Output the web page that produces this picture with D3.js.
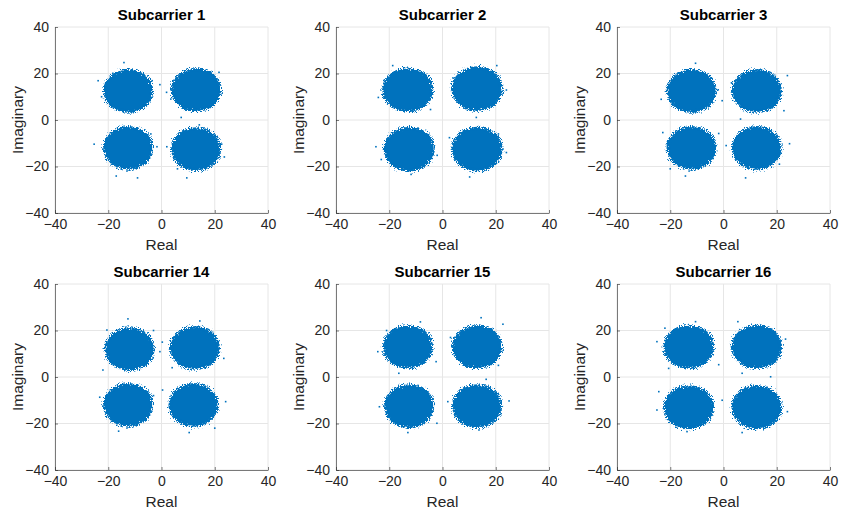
<!DOCTYPE html>
<html>
<head>
<meta charset="utf-8">
<script src="https://cdn.jsdelivr.net/npm/d3@7"></script>
<style>
  body { margin: 0; background: #fff; }
  svg { display: block; font-family: "Liberation Sans", Arial, sans-serif; }
</style>
</head>
<body>
<div class="viz"></div>
<script>
// subplot titles, in reading order
const titles = ['Subcarrier 1', 'Subcarrier 2', 'Subcarrier 3', 'Subcarrier 14', 'Subcarrier 15', 'Subcarrier 16'];
const ticks = [-40, -20, 0, 20, 40];

// centre of each of the four symbol clouds [real, imag], per subcarrier
const centers1 = [[-12.5, 12.5], [13, 13], [-12.5, -12], [13, -12.5]];
const centers2 = [[-13, 13], [13, 13.5], [-12.5, -12.5], [13, -12.5]];
const centers3 = [[-12, 12.5], [12.5, 12.5], [-12, -12], [12.5, -12]];
const centers14 = [[-12, 12], [12.5, 12.5], [-12.5, -12], [12, -12]];
const centers15 = [[-13, 13], [13, 13], [-12.5, -12.5], [13, -12.5]];
const centers16 = [[-13, 13], [12.5, 13], [-13, -13], [12.5, -13]];

// radius of the dense part of each cloud
const coreRadius = [9.4, 9.6, 9.4, 9.4, 9.4, 9.5];

// stray samples outside the dense cores
const strays1 = [[-14.1, 24.7], [-23.8, 16.9], [-0.6, 15.2], [-3.5, 16.9], [-9.0, -24.9], [-25.3, -10.4], [-1.7, -11.5], [2.0, -11.5], [9.5, -24.9], [23.6, -15.9], [22.6, -10.4], [14.2, -2.1], [21.6, 20.5], [7.4, 1.1], [1.9, 11.9], [-17, -24.1], [-22.5, 10], [3.5, 9], [-4, -6], [6, -21]];
const strays2 = [[-18.7, 23.4], [-24.1, 9.7], [-2, -15.2], [-11.8, -23.4], [-25, -11.5], [2.6, -7.6], [24, -14], [10.2, -24.5], [12.7, 1.1], [24, 12.9], [20.4, 23.4], [-4.5, 4.5], [-22, 17], [4, 18], [-23, -17], [21, -6]];
const strays3 = [[-10.5, 24.4], [-23.4, 8.9], [-0.5, 8.3], [6.4, 0.4], [24, 19.1], [22.7, 4], [-1.8, -5.8], [-14.3, -24.1], [8.3, -24.9], [24.8, -10.2], [-22.8, -5.4], [3, 16], [-2, 13], [1, -11], [-20, -21], [21, -19]];
const strays14 = [[-12.6, 25], [-23.2, -8.7], [-0.6, 10.9], [0.4, -5.6], [-16.1, -23.3], [10.4, -23.9], [23.4, 8], [14.4, 24.1], [24.1, -10.6], [-20.5, 20.2], [0.3, 15], [-3, 20], [4, 4], [-3, -8], [20, -22], [-22, 3]];
const strays15 = [[-8.3, 23.7], [-24.3, 10.9], [-2.4, 6.6], [-16.4, 1.6], [-23.7, -12.8], [-2.1, -19.9], [-13, -23.9], [14.5, 25.5], [22.7, 22.7], [25, -10.3], [16.4, -1], [2, -10.6], [13.7, -22.8], [3, 17], [-21, 20], [21, 5]];
const strays16 = [[-25, 15.2], [-10.5, 23.8], [-1.8, 5.3], [-20.6, 3.7], [-24.3, -6.3], [-25, -14.2], [-0.5, -10], [-13.7, -23.5], [7, -23.9], [17.7, 0.1], [24, -14.9], [5.4, 23.8], [23.3, 16.3], [7, 1.6], [-22, 21], [3, 13]];

const allCenters = [centers1, centers2, centers3, centers14, centers15, centers16];
const allStrays = [strays1, strays2, strays3, strays14, strays15, strays16];

const W = 842;
const H = 516;
const blue = '#0072bd';
const axisColor = '#262626';

// plot boxes for the 3x2 grid
const colLeft = [55, 336, 617];
const rowTop = [27, 284];
const boxW = 213;
const boxH = 186;

const svg = d3.select('.viz')
  .append('svg')
  .attr('width', W)
  .attr('height', H);

// roughen the cloud edges so they read as dense scatter
const filter = svg.append('defs')
  .append('filter')
  .attr('id', 'speckle')
  .attr('x', '-20%').attr('y', '-20%')
  .attr('width', '140%').attr('height', '140%');
filter.append('feTurbulence')
  .attr('type', 'fractalNoise')
  .attr('baseFrequency', 1.1)
  .attr('numOctaves', 2)
  .attr('seed', 7)
  .attr('result', 'noise');
filter.append('feDisplacementMap')
  .attr('in', 'SourceGraphic')
  .attr('in2', 'noise')
  .attr('scale', 9)
  .attr('xChannelSelector', 'R')
  .attr('yChannelSelector', 'G');

titles.forEach((title, i) => {
  const col = i % 3;
  const row = Math.floor(i / 3);
  const g = svg.append('g')
    .attr('transform', `translate(${colLeft[col]} ${rowTop[row]})`);

  const x = d3.scaleLinear().domain([-40, 40]).range([0, boxW]);
  const y = d3.scaleLinear().domain([-40, 40]).range([boxH, 0]);

  // grid
  g.append('g')
    .selectAll('line')
    .data(ticks)
    .join('line')
    .attr('x1', d => x(d)).attr('x2', d => x(d))
    .attr('y1', 0).attr('y2', boxH)
    .attr('stroke', '#e6e6e6');
  g.append('g')
    .selectAll('line')
    .data(ticks)
    .join('line')
    .attr('y1', d => y(d)).attr('y2', d => y(d))
    .attr('x1', 0).attr('x2', boxW)
    .attr('stroke', '#e6e6e6');

  // dense clouds: speckled rim plus a solid core
  const r = coreRadius[i];
  g.append('g')
    .attr('filter', 'url(#speckle)')
    .selectAll('ellipse')
    .data(allCenters[i])
    .join('ellipse')
    .attr('cx', d => x(d[0]))
    .attr('cy', d => y(d[1]))
    .attr('rx', x(r) - x(0))
    .attr('ry', y(0) - y(r))
    .attr('fill', blue);

  g.append('g')
    .selectAll('ellipse')
    .data(allCenters[i])
    .join('ellipse')
    .attr('cx', d => x(d[0]))
    .attr('cy', d => y(d[1]))
    .attr('rx', x(r - 1.4) - x(0))
    .attr('ry', y(0) - y(r - 1.4))
    .attr('fill', blue);

  // stray points
  g.append('g')
    .selectAll('rect')
    .data(allStrays[i])
    .join('rect')
    .attr('x', d => x(d[0]) - 0.8)
    .attr('y', d => y(d[1]) - 0.8)
    .attr('width', 1.6)
    .attr('height', 1.6)
    .attr('fill', blue);

  // axes
  const xAxis = d3.axisBottom(x).tickValues(ticks).tickSizeInner(-3).tickSizeOuter(0).tickPadding(6);
  const yAxis = d3.axisLeft(y).tickValues(ticks).tickSizeInner(-3).tickSizeOuter(0).tickPadding(6);

  g.append('g')
    .attr('class', 'axis')
    .attr('transform', `translate(0 ${boxH})`)
    .call(xAxis);
  g.append('g')
    .attr('class', 'axis')
    .call(yAxis);

  g.selectAll('.axis path').attr('stroke', axisColor).attr('stroke-width', 0.6);
  g.selectAll('.axis line').attr('stroke', axisColor).attr('stroke-width', 0.6);
  g.selectAll('.axis text')
    .attr('fill', axisColor)
    .attr('font-size', 14);

  // labels
  g.append('text')
    .attr('x', boxW / 2)
    .attr('y', -7)
    .attr('text-anchor', 'middle')
    .attr('font-size', 15)
    .attr('font-weight', 'bold')
    .attr('fill', '#000')
    .text(title);

  g.append('text')
    .attr('x', boxW / 2)
    .attr('y', boxH + 37)
    .attr('text-anchor', 'middle')
    .attr('font-size', 15.5)
    .attr('fill', axisColor)
    .text('Real');

  g.append('text')
    .attr('transform', `translate(-32 ${boxH / 2}) rotate(-90)`)
    .attr('text-anchor', 'middle')
    .attr('font-size', 15.5)
    .attr('fill', axisColor)
    .text('Imaginary');
});
</script>
</body>
</html>
